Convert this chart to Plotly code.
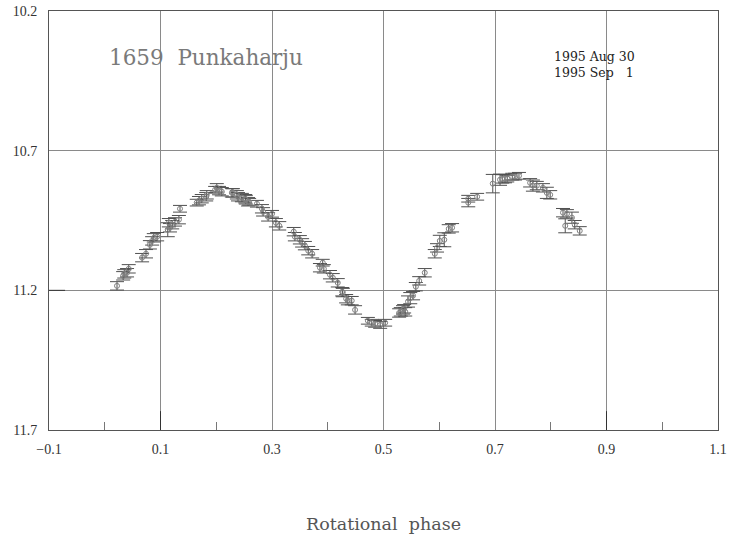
import plotly.graph_objects as go

# Lightcurve of asteroid 1659 Punkaharju, folded on rotational phase
phase = [0.022, 0.033, 0.035, 0.040, 0.043, 0.067, 0.074, 0.081, 0.085, 0.088,
         0.094, 0.113, 0.115, 0.117, 0.121, 0.126, 0.133, 0.135, 0.165, 0.169,
         0.174, 0.182, 0.183, 0.198, 0.201, 0.205, 0.210, 0.228, 0.230, 0.237,
         0.239, 0.246, 0.252, 0.253, 0.257, 0.259, 0.273, 0.282, 0.284, 0.293,
         0.300, 0.307, 0.313, 0.339, 0.341, 0.350, 0.354, 0.359, 0.365, 0.372,
         0.391, 0.386, 0.393, 0.404, 0.409, 0.418, 0.426, 0.427, 0.433, 0.436,
         0.443, 0.449, 0.472, 0.479, 0.485, 0.494, 0.503, 0.528, 0.531, 0.535,
         0.537, 0.539, 0.544, 0.548, 0.553, 0.558, 0.564, 0.574, 0.592, 0.596,
         0.601, 0.609, 0.617, 0.623, 0.652, 0.652, 0.668, 0.696, 0.709, 0.713,
         0.718, 0.722, 0.731, 0.736, 0.743, 0.763, 0.768, 0.775, 0.786, 0.793,
         0.799, 0.822, 0.826, 0.829, 0.838, 0.843, 0.852]

magnitude = [11.184, 11.148, 11.141, 11.137, 11.123, 11.083, 11.069, 11.037, 11.023, 11.012,
             11.008, 10.983, 10.958, 10.976, 10.965, 10.955, 10.947, 10.908, 10.886, 10.879,
             10.872, 10.865, 10.858, 10.840, 10.833, 10.843, 10.847, 10.851, 10.851, 10.858,
             10.865, 10.868, 10.872, 10.876, 10.883, 10.883, 10.890, 10.908, 10.919, 10.937,
             10.926, 10.958, 10.969, 10.990, 11.008, 11.019, 11.030, 11.040, 11.058, 11.069,
             11.101, 11.119, 11.123, 11.144, 11.155, 11.173, 11.205, 11.208, 11.230, 11.237,
             11.237, 11.270, 11.309, 11.316, 11.320, 11.324, 11.316, 11.281, 11.277, 11.270,
             11.266, 11.277, 11.240, 11.228, 11.219, 11.187, 11.166, 11.137, 11.069, 11.048,
             11.023, 11.019, 10.980, 10.976, 10.886, 10.872, 10.865, 10.818, 10.804, 10.801,
             10.800, 10.800, 10.793, 10.793, 10.790, 10.815, 10.825, 10.825, 10.833, 10.851,
             10.858, 10.922, 10.969, 10.926, 10.940, 10.965, 10.987]

mag_error = [0.015, 0.015, 0.015, 0.015, 0.015, 0.015, 0.015, 0.015, 0.015, 0.015,
             0.015, 0.025, 0.015, 0.015, 0.015, 0.015, 0.015, 0.012, 0.012, 0.015,
             0.015, 0.015, 0.015, 0.012, 0.015, 0.015, 0.015, 0.015, 0.015, 0.015,
             0.015, 0.015, 0.015, 0.015, 0.015, 0.012, 0.012, 0.015, 0.015, 0.015,
             0.012, 0.015, 0.015, 0.015, 0.015, 0.015, 0.015, 0.015, 0.015, 0.015,
             0.012, 0.015, 0.015, 0.015, 0.015, 0.015, 0.015, 0.015, 0.015, 0.015,
             0.015, 0.015, 0.012, 0.012, 0.012, 0.012, 0.012, 0.015, 0.015, 0.015,
             0.015, 0.015, 0.02, 0.02, 0.015, 0.015, 0.015, 0.015, 0.015, 0.015,
             0.02, 0.025, 0.015, 0.015, 0.015, 0.012, 0.012, 0.033, 0.02, 0.015,
             0.015, 0.012, 0.012, 0.012, 0.012, 0.015, 0.02, 0.015, 0.015, 0.02,
             0.015, 0.015, 0.025, 0.015, 0.02, 0.015, 0.015]

x_ticks = [-0.1, 0.1, 0.3, 0.5, 0.7, 0.9, 1.1]
x_tick_text = ["\u22120.1", "0.1", "0.3", "0.5", "0.7", "0.9", "1.1"]
x_minor = [0.0, 0.2, 0.4, 0.6, 0.8, 1.0]
y_ticks = [10.2, 10.7, 11.2, 11.7]
y_tick_text = ["10.2", "10.7", "11.2", "11.7"]

serif = "Liberation Serif, DejaVu Serif, serif"
wide_serif = "DejaVu Serif, Liberation Serif, serif"

fig = go.Figure()
fig.add_trace(go.Scatter(
    x=phase, y=magnitude, mode="markers",
    marker=dict(symbol="circle-open", size=5, color="#808080", line=dict(width=1)),
    error_y=dict(type="data", array=mag_error, visible=True,
                 color="#505050", thickness=1, width=7),
    error_x=dict(visible=False),
    showlegend=False,
))

fig.update_layout(
    width=730, height=540,
    margin=dict(l=49, r=12, t=11, b=110),
    paper_bgcolor="white", plot_bgcolor="white",
    font=dict(family=serif, size=14, color="#333333"),
    xaxis=dict(
        range=[-0.1, 1.1], tickvals=x_ticks, ticktext=x_tick_text,
        showgrid=True, gridcolor="#8a8a8a", gridwidth=1,
        showline=True, linecolor="#555555", linewidth=1, mirror=True,
        ticks="", ticklabelstandoff=6, zeroline=False, automargin=False,
        minor=dict(tickvals=x_minor, ticks="inside", ticklen=8,
                   tickcolor="#777777", showgrid=False),
    ),
    yaxis=dict(
        range=[11.7, 10.2], tickvals=y_ticks, ticktext=y_tick_text,
        showgrid=True, gridcolor="#8a8a8a", gridwidth=1,
        showline=True, linecolor="#555555", linewidth=1, mirror=True,
        ticks="", ticklabelstandoff=8, zeroline=False, automargin=False,
    ),
    annotations=[
        dict(text="1659\u00a0\u00a0Punkaharju", xref="paper", yref="paper",
             x=0.086, y=0.888, xanchor="left", yanchor="middle", showarrow=False,
             font=dict(family=wide_serif, size=21.5, color="#7a7a7a")),
        dict(text="1995 Aug 30<br>1995 Sep \u20071", xref="paper", yref="paper",
             x=0.752, y=0.872, xanchor="left", yanchor="middle", showarrow=False,
             align="left", font=dict(family=wide_serif, size=12.5, color="#222222")),
        dict(text="Rotational\u00a0\u00a0phase", xref="paper", yref="paper",
             x=0.5, y=-0.224, xanchor="center", yanchor="middle", showarrow=False,
             font=dict(family=wide_serif, size=17.5, color="#555555")),
    ],
    shapes=[
        # darker major ticks along the bottom axis and the 11.2 stub on the left
        dict(type="line", xref="x", yref="paper", x0=0.1, x1=0.1, y0=0, y1=0.045,
             line=dict(color="#333333", width=1)),
        dict(type="line", xref="x", yref="paper", x0=0.9, x1=0.9, y0=0, y1=0.045,
             line=dict(color="#333333", width=1)),
        dict(type="line", xref="paper", yref="y", x0=0, x1=0.024, y0=11.2, y1=11.2,
             line=dict(color="#333333", width=1)),
    ],
)

fig.write_html("out.html")
